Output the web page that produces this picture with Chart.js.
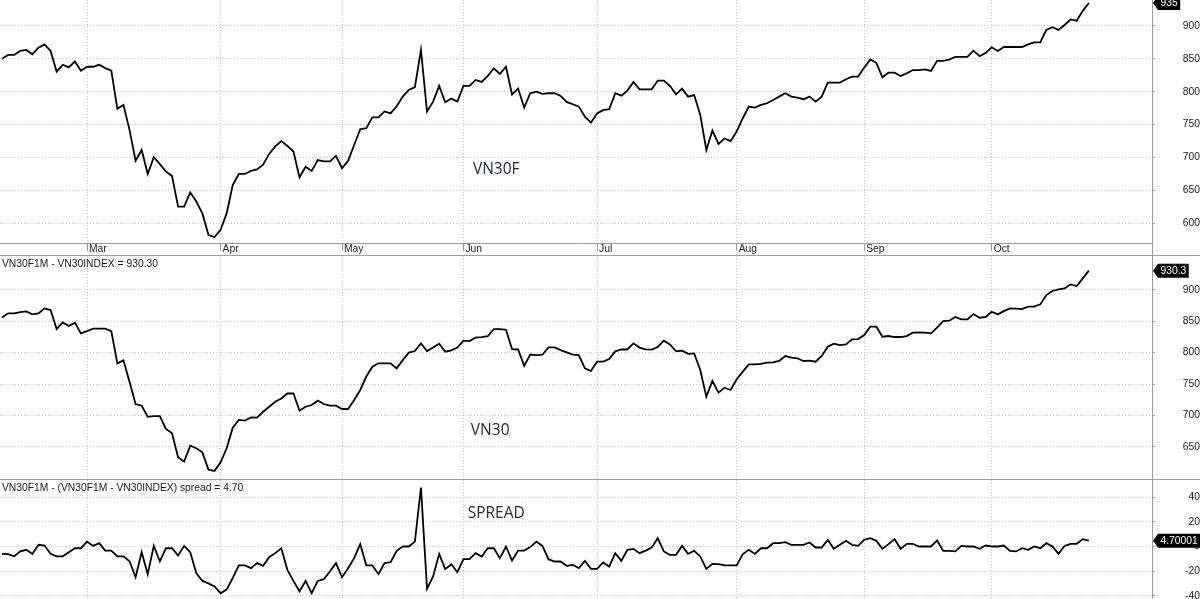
<!DOCTYPE html>
<html>
<head>
<meta charset="utf-8">
<script src="https://cdn.jsdelivr.net/npm/chart.js@4.4.1/dist/chart.umd.min.js"></script>
<style>
  html, body { margin: 0; padding: 0; background: #fff; }
  #wrap { position: relative; width: 1200px; height: 599px; overflow: hidden; }
  .pane { position: absolute; left: 0; width: 1200px; }
  #p1 { top: 0; height: 255px; border-bottom: 1px solid #a0a0a0; }
  #p2 { top: 256px; height: 223px; border-bottom: 1px solid #a0a0a0; }
  #p3 { top: 480px; height: 119px; }
</style>
</head>
<body>
<div id="wrap">
  <div class="pane" id="p1"><canvas id="chartF"></canvas></div>
  <div class="pane" id="p2"><canvas id="chartIdx"></canvas></div>
  <div class="pane" id="p3"><canvas id="chartSpread"></canvas></div>
</div>
<script>
// trading days, index 0 = mid Feb, last = Oct 23
const monthNames = ['Mar', 'Apr', 'May', 'Jun', 'Jul', 'Aug', 'Sep', 'Oct']
const monthStart = [14, 36, 56, 76, 98, 121, 142, 163]

const vn30f = [
  850, 856, 856, 862, 863.5, 857, 867, 872, 862, 830.6,
  841, 837, 846, 832, 838, 838, 841, 836, 832, 774,
  780, 742, 695, 711.5, 675, 700.4, 690, 678.6, 672, 625.4,
  625.4, 647, 633, 615, 582, 579, 590, 615, 658, 675,
  675, 679.6, 682, 689, 705.5, 717, 725, 717.6, 709, 670,
  686, 679.6, 696, 694, 694, 702.4, 683.7, 695, 719, 743,
  744.5, 761, 761, 770, 767, 778, 792.6, 802.7, 807, 863.5,
  770, 785, 809, 784, 789.6, 785, 809, 809, 818, 815,
  824, 835.7, 827, 838, 796, 804.8, 776, 797.7, 800, 796.7,
  797.7, 797.7, 793.6, 784.5, 781, 777.4, 762, 753, 767, 772,
  773.4, 797.7, 794, 801.7, 815, 803.7, 803.7, 803.7, 817, 817,
  809, 796, 804.8, 792.6, 795, 764.7, 711.5, 741, 720.7, 729,
  725, 739.4, 759.7, 777.4, 776, 780, 782.5, 787.5, 792.6, 797.7,
  792.6, 791, 788.6, 792.6, 785, 792.6, 814, 814, 814, 819,
  823, 823, 836.7, 849, 844, 822, 829, 829, 824, 828,
  833, 833, 834, 831.6, 847, 847, 849, 853, 853, 853,
  862.5, 854, 859, 867.6, 862, 868, 868, 868, 868, 872,
  875, 875, 894, 898, 894, 901.5, 910, 908, 923, 935
]

const vn30 = [
  856, 862.4, 862.4, 864.5, 865.6, 860.8, 862.4, 870.3, 867.7, 837.5,
  848, 842.3, 847.6, 830.6, 834.3, 838, 838, 838, 834.3, 783,
  787.7, 753.8, 718.3, 715.7, 698, 699, 699, 678.6, 671.7, 633.6,
  626.7, 652, 648, 641.5, 614, 612, 625.6, 648, 680.7, 693,
  692, 697, 696.6, 706, 714, 722, 727, 735, 735, 707.7,
  714, 716.7, 723.6, 718.3, 715.7, 715.7, 710.4, 710.4, 724.7, 740.6,
  762, 777.6, 783, 783, 783, 775, 788, 800, 802.5, 814.7,
  802.5, 808, 814, 801.5, 803.6, 808, 819, 818.4, 824, 824.8,
  826, 837.5, 837.5, 836.4, 805.7, 805, 779, 797, 796, 796.7,
  808.4, 808.4, 804, 800.4, 796.7, 796, 775, 770.8, 785.6, 785.6,
  789.8, 802, 805, 805, 814.7, 808, 805, 804.7, 809, 819,
  813, 802.5, 803, 798, 798.8, 772.4, 730, 755, 736.3, 744.3,
  740.6, 757.5, 769.7, 781.4, 781.4, 782, 784, 784.5, 786.7, 794.6,
  792, 791, 786.7, 787.2, 785.6, 794.6, 809.4, 814.2, 812, 813,
  821, 821.6, 828, 841.2, 841.2, 825.3, 826.4, 824.8, 824.8, 826.4,
  831.7, 832.2, 831.7, 830.6, 839.6, 850.2, 850.7, 856.6, 852.9, 852.9,
  861.3, 855.5, 856.6, 865, 860.8, 866, 870.3, 869.8, 869.3, 873,
  873, 876.7, 891.5, 898, 900.5, 902, 908.5, 905.8, 918, 930.3
]

const spread = [
  -6, -6.2, -8, -4, -2.7, -6, 1.4, 0.8, -6, -8,
  -8, -4.6, -1.4, -1.4, 4, 0.5, 2.7, -3.3, -3.3, -8,
  -8, -12, -25, -4.6, -22.5, 0.5, -12, -1.4, -1.4, -7.3,
  0.5, -4.6, -21.7, -28, -30, -32.5, -38, -35, -25.7, -15.4,
  -15.4, -17.6, -13.5, -15.7, -8.7, -5.4, -1.4, -19, -28, -36.6,
  -28, -38, -28, -26.6, -20.3, -13.5, -25, -17.6, -9.5, 1.9,
  -15.4, -15.4, -22.5, -13.5, -12.7, -3.5, 0, 0, 4, 48,
  -34.4, -24.4, -6, -18.4, -14.4, -20.9, -10.3, -10.3, -5.4, -8.1,
  -1.4, -1.4, -9.5, 0, -11.4, -3.3, -3.3, -0.5, 4, 0.5,
  -10.3, -12.2, -12.2, -15.7, -14.9, -17.6, -11.7, -18.2, -18.2, -13,
  -16.3, -5.4, -11.7, -2.7, -1.9, -5.4, -3.3, -0.8, 6.8, -4,
  -6.8, -6.8, 0.5, -6, -3.5, -8.1, -18.2, -14.1, -14.4, -15.4,
  -15.4, -15.4, -6.2, -2.7, -6, -1.4, -1.4, 2.7, 2.7, 3.5,
  1.4, 1.4, 1.4, 3.3, -0.8, -0.8, 5.4, -1.9, 1.4, 4.6,
  1.4, 0.5, 5.4, 6.8, 4.6, -1.9, 1.9, 6, -1.9, 2.2,
  2.2, 0, 0, 0, 4.9, -3.5, -3.5, -4, 0.5, 0,
  0, -1.9, 0.8, 0, 0, 0.8, -3.5, -4, -1.4, -2.7,
  0, -1.4, 2.7, 0, -6, 0.5, 2.2, 2.2, 6, 4.7
]

const ticksF = [600, 650, 700, 750, 800, 850, 900]
const ticksIdx = [650, 700, 750, 800, 850, 900]
const ticksSpread = [-40, -20, 0, 20, 40]
const titles = ['', 'VN30F1M - VN30INDEX = 930.30', 'VN30F1M - (VN30F1M - VN30INDEX) spread = 4.70']
const tags = ['935', '930.3', '4.70001']
const names = ['VN30F', 'VN30', 'SPREAD']

const smallFont = { family: '"Liberation Sans", Arial, sans-serif', size: 10.3 }

// last-value tag, panel title and the big panel name
const overlay = {
  id: 'overlay',
  afterDraw: (chart, args, opts) => {
    const ctx = chart.ctx
    const area = chart.chartArea
    const xScale = chart.scales.x
    const yScale = chart.scales.y
    const vals = chart.data.datasets[0].data
    const y = yScale.getPixelForValue(vals[vals.length - 1])
    const x0 = area.right + 1

    ctx.save()
    // axis line through the month label row
    if (opts.months) {
      ctx.strokeStyle = '#9a9a9a'
      ctx.lineWidth = 1
      ctx.beginPath()
      ctx.moveTo(area.right + 0.5, area.bottom)
      ctx.lineTo(area.right + 0.5, chart.height)
      ctx.stroke()
    }

    ctx.font = '10.3px "Liberation Sans", Arial, sans-serif'
    const w = ctx.measureText(opts.tag).width + 5
    ctx.fillStyle = '#000'
    ctx.beginPath()
    ctx.moveTo(x0, y)
    ctx.lineTo(x0 + 5, y - 7)
    ctx.lineTo(x0 + 5 + w, y - 7)
    ctx.lineTo(x0 + 5 + w, y + 7)
    ctx.lineTo(x0 + 5, y + 7)
    ctx.closePath()
    ctx.fill()
    ctx.fillStyle = '#fff'
    ctx.textAlign = 'left'
    ctx.textBaseline = 'middle'
    ctx.fillText(opts.tag, x0 + 7.5, y + 0.5)

    if (opts.title) {
      ctx.fillStyle = '#1a1a1a'
      ctx.textBaseline = 'top'
      ctx.fillText(opts.title, area.left + 2, area.top + 3)
    }

    ctx.font = '15.5px "Open Sans", sans-serif'
    ctx.fillStyle = '#262645'
    ctx.textAlign = 'center'
    ctx.textBaseline = 'middle'
    ctx.fillText(opts.name, xScale.getPixelForValue(opts.nameAt[0]), yScale.getPixelForValue(opts.nameAt[1]))
    ctx.restore()
  }
}

function makeChart(canvasId, values, cfg) {
  const ctx = document.getElementById(canvasId).getContext('2d')
  return new Chart(ctx, {
    type: 'line',
    data: {
      labels: values.map((_, i) => i),
      datasets: [
        {
          data: values,
          borderColor: '#000',
          borderWidth: 1.8,
          pointRadius: 0,
          fill: false,
          tension: 0
        }
      ]
    },
    options: {
      responsive: true,
      maintainAspectRatio: false,
      animation: false,
      layout: { padding: 0 },
      plugins: {
        legend: { display: false },
        tooltip: { enabled: false },
        overlay: { tag: cfg.tag, title: cfg.title, name: cfg.name, nameAt: cfg.nameAt, months: cfg.months }
      },
      scales: {
        x: {
          type: 'linear',
          min: -0.33,
          max: 189.4,
          afterBuildTicks: s => { s.ticks = monthStart.map(v => ({ value: v })) },
          afterFit: s => {
            s.height = cfg.months ? 12 : 0
            s.paddingLeft = 0
            s.paddingRight = 0
          },
          grid: { color: '#c4c4c4', drawTicks: cfg.months, tickLength: 8, tickColor: '#9a9a9a' },
          border: { display: cfg.months, color: '#9a9a9a', dash: [1, 2] },
          ticks: {
            display: cfg.months,
            align: 'start',
            padding: -8,
            labelOffset: 2,
            font: smallFont,
            color: '#1a1a1a',
            callback: v => monthNames[monthStart.indexOf(v)]
          }
        },
        y: {
          position: 'right',
          min: cfg.min,
          max: cfg.max,
          afterBuildTicks: s => { s.ticks = cfg.ticks.map(v => ({ value: v })) },
          afterFit: s => {
            s.width = 48
            s.paddingTop = 0
            s.paddingBottom = 0
          },
          grid: { color: '#c4c4c4', tickLength: 3, tickColor: '#9a9a9a' },
          border: { color: '#9a9a9a', dash: [1, 2] },
          ticks: { crossAlign: 'far', padding: cfg.pad, font: smallFont, color: '#1a1a1a' }
        }
      }
    },
    plugins: [overlay]
  })
}

makeChart('chartF', vn30f, {
  min: 570, max: 939.5, ticks: ticksF, pad: 25, months: true,
  tag: tags[0], title: titles[0], name: names[0], nameAt: [81.4, 681]
})
makeChart('chartIdx', vn30, {
  min: 599.1, max: 953.6, ticks: ticksIdx, pad: 25, months: false,
  tag: tags[1], title: titles[1], name: names[1], nameAt: [80.4, 675.4]
})
makeChart('chartSpread', spread, {
  min: -42.7, max: 54.1, ticks: ticksSpread, pad: 27, months: false,
  tag: tags[2], title: titles[2], name: names[2], nameAt: [81.4, 26.6]
})
</script>
</body>
</html>
